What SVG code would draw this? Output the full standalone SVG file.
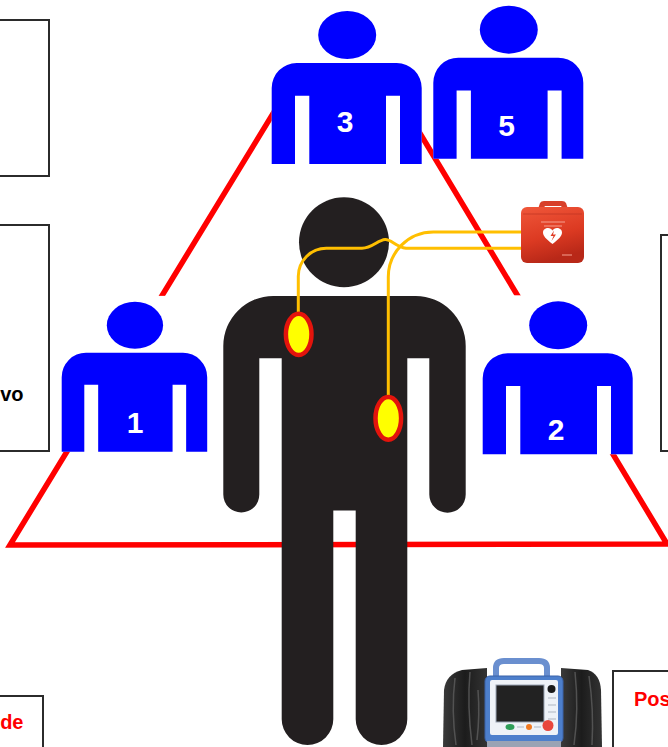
<svg xmlns="http://www.w3.org/2000/svg" width="668" height="747" viewBox="0 0 668 747">
  <defs>
    <style>
      .frame{fill:#fff;stroke:#2b2b2b;stroke-width:2}
      .lbl{font-family:"Liberation Sans",Arial,Helvetica,sans-serif;font-weight:bold;font-size:20px}
      .num{font-family:"Liberation Sans",Arial,Helvetica,sans-serif;font-weight:bold;font-size:30px;fill:#fff;text-anchor:middle}
      .wire{fill:none;stroke:#ffbf00;stroke-width:3;stroke-linecap:round}
      .pad{fill:#ffff00;stroke:#e3140c;stroke-width:4.5}
      .fold{fill:none;stroke:#5c5c5c;stroke-width:1.5;opacity:.8}
    </style>
    <!-- blue rescuer pictogram on its own white tile, local origin = torso top-left -->
    <g id="rescuer">
      <rect x="0" y="-58" width="150" height="159" fill="#fff"/>
      <ellipse cx="75.5" cy="-28" rx="29" ry="24" fill="#0000ff"/>
      <path fill="#0000ff" fill-rule="evenodd" d="M0,101 V25 A25,25 0 0 1 25,0 H125 A25,25 0 0 1 150,25 V101 Z M23.3,101 V32.7 H37.6 V101 Z M114.3,101 V32.7 H128.3 V101 Z"/>
    </g>
    <linearGradient id="caseGrad" x1="0" y1="0" x2="0.3" y2="1">
      <stop offset="0" stop-color="#f0573a"/>
      <stop offset="0.6" stop-color="#dc3a22"/>
      <stop offset="1" stop-color="#b82818"/>
    </linearGradient>
    <linearGradient id="bagGrad" x1="0" y1="0" x2="1" y2="0">
      <stop offset="0" stop-color="#3a3a3a"/>
      <stop offset="0.5" stop-color="#1c1c1c"/>
      <stop offset="1" stop-color="#333"/>
    </linearGradient>
  </defs>

  <!-- side captions (frames run off the page) -->
  <g id="box-top-left">
    <rect class="frame" x="-20" y="20" width="69" height="156"/>
  </g>
  <g id="box-mid-left">
    <rect class="frame" x="-20" y="225" width="69" height="226"/>
    <text class="lbl" x="23.5" y="401" text-anchor="end" fill="#000">vo</text>
  </g>
  <g id="box-mid-right">
    <rect class="frame" x="661" y="235" width="30" height="216"/>
  </g>

  <!-- rescue triangle -->
  <g id="connectors">
    <polygon points="10,545 341,2 667,544" fill="none" stroke="#ff0000" stroke-width="5.5"/>
  </g>

  <!-- rescuers -->
  <g id="rescuer-3">
    <rect x="271.7" y="-8" width="150" height="16" fill="#fff"/>
    <use href="#rescuer" transform="translate(271.7,63)"/>
    <text class="num" x="345" y="131.5">3</text>
  </g>
  <g id="rescuer-5">
    <use href="#rescuer" transform="translate(433.3,57.7)"/>
    <text class="num" x="506.7" y="136">5</text>
  </g>
  <g id="rescuer-1">
    <use href="#rescuer" transform="translate(61.7,352.7) scale(0.97,0.98)"/>
    <text class="num" x="135" y="433.3">1</text>
  </g>
  <g id="rescuer-2">
    <use href="#rescuer" transform="translate(482.7,353.3)"/>
    <text class="num" x="556" y="440">2</text>
  </g>

  <!-- patient -->
  <g id="patient" fill="#231f20">
    <circle cx="344" cy="242.3" r="45"/>
    <path d="M223.3,346 A50,50 0 0 1 273.3,296 H415.7 A50,50 0 0 1 465.7,346 V494.5 A18.2,18.2 0 0 1 429.3,494.5 V358.3 H407.3 V719.2 A25.8,25.8 0 0 1 355.7,719.2 V510.5 H333.3 V719.2 A25.8,25.8 0 0 1 281.7,719.2 V358.3 H259.3 V494.5 A18,18 0 0 1 223.3,494.5 Z"/>
  </g>

  <!-- AED leads -->
  <g id="leads">
    <path class="wire" d="M298.3,312 V276.5 A28,28 0 0 1 326.5,248.3 H362 C372,248.3 378,240 385,239.5 C391,239 396,247 406,248.3 H522"/>
    <path class="wire" d="M388.3,396 V277 A45,45 0 0 1 433.3,232 H522"/>
  </g>

  <!-- electrode pads -->
  <g id="pad-1">
    <ellipse class="pad" cx="298.7" cy="334.3" rx="12.8" ry="20.6"/>
  </g>
  <g id="pad-2">
    <ellipse class="pad" cx="388.3" cy="418.3" rx="12.8" ry="21.4"/>
  </g>

  <!-- AED case -->
  <g id="aed">
    <path d="M538,209 L540,203 Q541,201 544,201 H562 Q565,201 566,203 L568,209 H563 L561,206 H545 L543,209 Z" fill="#d8402a"/>
    <rect x="521" y="207" width="63" height="56" rx="6" fill="url(#caseGrad)"/>
    <path d="M523,214 H582" stroke="#b83020" stroke-width="1" opacity=".6"/>
    <path d="M541,222 H565 M544,226 H562" stroke="#f6a090" stroke-width="1"/>
    <path d="M552.5,244 C546,239 543,236 543,232.5 C543,229.5 545.5,228 548,228 C550,228 551.5,229 552.5,230.5 C553.5,229 555,228 557,228 C559.5,228 562,229.5 562,232.5 C562,236 559,239 552.5,244 Z" fill="#fff"/>
    <path d="M554,230.5 L550.5,236 H553.5 L551.5,241 L556,234.5 H553 Z" fill="#e03a22"/>
    <path d="M562,255 H572" stroke="#f6a090" stroke-width="1"/>
  </g>

  <!-- manual defibrillator / monitor -->
  <g id="monitor">
    <path d="M443,747 L444,690 Q446,674 462,670 L487,668 V747 Z" fill="url(#bagGrad)"/>
    <path d="M561,668 L588,670 Q600,674 601,690 L602,747 H561 Z" fill="url(#bagGrad)"/>
    <path class="fold" d="M455,678 Q451,710 456,745 M470,672 Q467,705 472,745 M478,690 Q480,715 477,740"/>
    <path class="fold" d="M575,672 Q579,710 574,745 M589,676 Q594,710 592,745"/>
    <path d="M496,679 V668 Q496,661 504,661 H539 Q547,661 547,668 V679" fill="none" stroke="#6a8fcf" stroke-width="6"/>
    <rect x="485" y="676" width="78" height="67" rx="5" fill="#4d7fcc" stroke="#3a62a8" stroke-width="1"/>
    <rect x="490" y="680" width="68" height="55" rx="2" fill="#eef2f7"/>
    <rect x="496" y="685" width="48" height="37" fill="#222" stroke="#9aa4b4" stroke-width="1"/>
    <circle cx="551.5" cy="689" r="4" fill="#1a1a1a"/>
    <path d="M548,698 H556 M548,705 H556 M548,712 H556 M548,719 H556" stroke="#c4cad4" stroke-width="1.5"/>
    <ellipse cx="510" cy="727" rx="4.5" ry="3" fill="#2e9e58"/>
    <path d="M517,727 H524 M534,727 H541" stroke="#c4cad4" stroke-width="1.5"/>
    <circle cx="529" cy="727" r="3" fill="#f07a22"/>
    <circle cx="548" cy="725.5" r="5.5" fill="#e8463c"/>
    <rect x="487" y="741" width="74" height="6" fill="#9aa3b4"/>
  </g>

  <!-- bottom captions -->
  <g id="box-bottom-left">
    <rect class="frame" x="-20" y="696" width="63" height="80"/>
    <text class="lbl" x="23.5" y="729" text-anchor="end" fill="#ff0000">de</text>
  </g>
  <g id="box-bottom-right">
    <rect class="frame" x="613" y="671" width="80" height="100"/>
    <text class="lbl" x="634" y="706" fill="#ff0000">Pos</text>
  </g>
</svg>
